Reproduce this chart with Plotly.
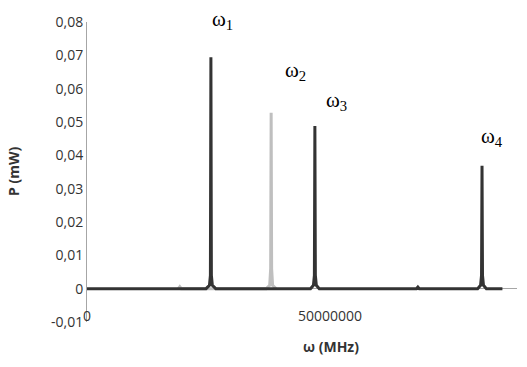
import plotly.graph_objects as go

# Dark series (omega1, omega3, omega4 and baseline)
dark_x = [0, 24.5e6, 25.2e6, 25.4e6, 25.5e6, 25.6e6, 25.8e6, 26.5e6,
          46.0e6, 46.6e6, 46.8e6, 46.9e6, 47.0e6, 47.2e6, 47.8e6,
          67.8e6, 68.1e6, 68.4e6,
          80.4e6, 81.0e6, 81.2e6, 81.3e6, 81.4e6, 81.6e6, 82.2e6, 85.5e6]
dark_y = [0, 0, 0.001, 0.004, 0.0694, 0.004, 0.001, 0,
          0, 0.001, 0.004, 0.0488, 0.004, 0.001, 0,
          0, 0.0005, 0,
          0, 0.001, 0.004, 0.0369, 0.004, 0.001, 0, 0]

# Light series (omega2)
light_x = [18.8e6, 19.1e6, 19.4e6,
           36.9e6, 37.6e6, 37.8e6, 37.9e6, 38.0e6, 38.2e6, 38.9e6]
light_y = [0, 0.0006, 0,
           0, 0.001, 0.006, 0.0528, 0.006, 0.001, 0]

y_ticks = [-0.01, 0, 0.01, 0.02, 0.03, 0.04, 0.05, 0.06, 0.07, 0.08]
y_tick_text = ["-0,01", "0", "0,01", "0,02", "0,03", "0,04", "0,05", "0,06", "0,07", "0,08"]
x_ticks = [0, 50000000]
x_tick_text = ["0", "50000000"]

peak_labels = ["ω<sub>1</sub>", "ω<sub>2</sub>", "ω<sub>3</sub>", "ω<sub>4</sub>"]
label_px = [0.316, 0.486, 0.581, 0.942]
label_py = [1.007, 0.837, 0.737, 0.617]

fig = go.Figure()
fig.add_trace(go.Scatter(x=light_x, y=light_y, mode="lines",
                         line=dict(color="#bfbfbf", width=3), showlegend=False))
fig.add_trace(go.Scatter(x=dark_x, y=dark_y, mode="lines",
                         line=dict(color="#333333", width=3), showlegend=False))

for t, x, y in zip(peak_labels, label_px, label_py):
    fig.add_annotation(x=x, y=y, xref="paper", yref="paper", text=t, showarrow=False,
                       xanchor="center", yanchor="middle",
                       font=dict(family="Liberation Serif", size=21, color="#000000"))

fig.add_annotation(x=0.567, y=-0.083, xref="paper", yref="paper", text="<b>ω (MHz)</b>",
                   showarrow=False, xanchor="center", yanchor="middle",
                   font=dict(family="Open Sans", size=14, color="#333333"))
fig.add_annotation(x=-0.172, y=0.5, xref="paper", yref="paper", text="<b>P (mW)</b>",
                   textangle=-90, showarrow=False, xanchor="center", yanchor="middle",
                   font=dict(family="Open Sans", size=14, color="#333333"))

fig.update_layout(
    width=527, height=367,
    margin=dict(l=87, r=10, t=22, b=45),
    plot_bgcolor="white", paper_bgcolor="white",
    font=dict(family="Open Sans", size=14, color="#333333"),
    xaxis=dict(range=[0, 88.5e6], tickvals=x_ticks, ticktext=x_tick_text,
               showgrid=False, zeroline=False, showline=False, ticks="",
               anchor="free", position=0.055, automargin=False),
    yaxis=dict(range=[-0.01, 0.08], tickvals=y_ticks, ticktext=y_tick_text,
               showgrid=False, zeroline=True, zerolinecolor="#a6a6a6", zerolinewidth=1,
               showline=True, linecolor="#a6a6a6", linewidth=1, ticks="",
               automargin=False),
)

fig.write_html("out.html", post_script="document.body.style.margin='0';",
               config={"displayModeBar": False})
